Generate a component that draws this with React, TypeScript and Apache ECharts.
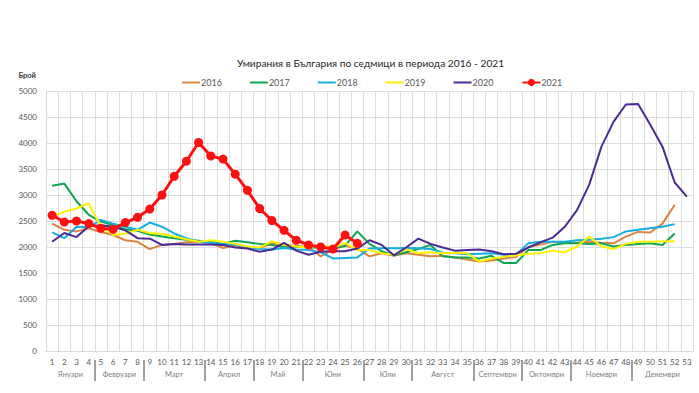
import React, { useEffect, useRef } from "react";
import * as echarts from "echarts";

const weeks: string[] = Array.from({ length: 53 }, (_, i) => String(i + 1));

const s2016 = [2450, 2330, 2300, 2360, 2290, 2230, 2130, 2100, 1960, 2040, 2060, 2090, 2100, 2080, 1980, 2030, 1980, 1980, 2070, 2050, 2020, 2000, 1820, 1950, 2030, 1970, 1820, 1880, 1830, 1880, 1850, 1820, 1830, 1800, 1760, 1720, 1740, 1780, 1810, 2000, 2050, 2100, 2080, 2080, 2100, 2080, 2070, 2200, 2290, 2280, 2450, 2810];
const s2017 = [3180, 3220, 2880, 2620, 2490, 2420, 2340, 2310, 2240, 2200, 2170, 2140, 2120, 2100, 2060, 2120, 2090, 2060, 2040, 2000, 2010, 1990, 1990, 1980, 2020, 2300, 2060, 1920, 1840, 1900, 1960, 2040, 1820, 1800, 1800, 1780, 1830, 1690, 1690, 1940, 1940, 2040, 2070, 2070, 2060, 2070, 2010, 2040, 2060, 2070, 2040, 2260];
const s2018 = [2280, 2170, 2390, 2380, 2520, 2450, 2390, 2330, 2470, 2390, 2260, 2170, 2100, 2080, 2060, 2050, 2000, 1960, 1950, 1980, 1950, 1940, 1900, 1780, 1790, 1800, 1970, 1975, 1975, 1980, 1975, 1960, 1890, 1880, 1860, 1870, 1880, 1850, 1850, 2070, 2100, 2100, 2100, 2130, 2140, 2160, 2190, 2300, 2330, 2360, 2390, 2440];
const s2019 = [2580, 2680, 2740, 2840, 2390, 2230, 2260, 2330, 2270, 2250, 2200, 2150, 2100, 2130, 2100, 2060, 2010, 1990, 2110, 2040, 2010, 1990, 2040, 1980, 2080, 1940, 1940, 1880, 1850, 1960, 1880, 1900, 1880, 1890, 1880, 1720, 1780, 1810, 1840, 1870, 1880, 1930, 1900, 2010, 2200, 2010, 1960, 2060, 2100, 2100, 2110, 2110];
const s2020 = [2100, 2270, 2190, 2400, 2420, 2390, 2320, 2170, 2160, 2040, 2060, 2050, 2050, 2050, 2040, 1990, 1970, 1910, 1950, 2080, 1930, 1850, 1910, 1920, 1920, 1970, 2130, 2040, 1840, 1990, 2160, 2060, 1990, 1930, 1940, 1950, 1920, 1860, 1870, 1990, 2090, 2180, 2390, 2710, 3200, 3930, 4410, 4740, 4750, 4350, 3930, 3240, 2970];
const s2021 = [2610, 2480, 2500, 2450, 2360, 2340, 2470, 2570, 2730, 3000, 3360, 3650, 4010, 3750, 3690, 3400, 3090, 2740, 2510, 2320, 2130, 2040, 2000, 1960, 2230, 2070];

const seriesNames = ["2016", "2017", "2018", "2019", "2020", "2021"];
const seriesColors = ["#DC8442", "#0DA550", "#14AEDF", "#FFF200", "#4B2A96", "#FF1010"];

const monthNames = ["Януари", "Февруари", "Март", "Април", "Май", "Юни", "Юли", "Август", "Септември", "Октомври", "Ноември", "Декември"];
const monthWeekCounts = [4, 4, 5, 4, 4, 5, 4, 5, 4, 4, 5, 5];

export default function App() {
  const ref = useRef<HTMLDivElement>(null);
  useEffect(() => {
    if (!ref.current) return;
    const chart = echarts.init(ref.current, undefined, { renderer: "svg" });

    const boundaries: number[] = [];
    const centers: number[] = [];
    let start = 0.5;
    monthWeekCounts.forEach((c, i) => {
      const end = start + c;
      centers.push((start + end) / 2);
      if (i < monthWeekCounts.length - 1) boundaries.push(end);
      start = end;
    });

    const allData = [s2016, s2017, s2018, s2019, s2020, s2021];
    const font = "Lato, 'Noto Sans', sans-serif";

    const series: any[] = allData.map((d, i) => {
      const isRed = i === 5;
      return {
        name: seriesNames[i],
        type: "line",
        xAxisIndex: 0,
        yAxisIndex: 0,
        data: d,
        color: seriesColors[i],
        symbol: isRed ? "circle" : "none",
        symbolSize: isRed ? 9 : 0,
        showSymbol: isRed,
        lineStyle: { width: isRed ? 3 : 2, color: seriesColors[i] },
        itemStyle: { color: seriesColors[i] },
        z: isRed ? 10 : 2 + i,
        silent: true,
      };
    });

    const legendData = seriesNames.map((n, i) =>
      i === 5 ? { name: n } : { name: n, icon: "path://M0,0H18V2H0Z" }
    );

    chart.setOption({
      animation: false,
      backgroundColor: "#ffffff",
      textStyle: { fontFamily: font },
      title: {
        text: "Умирания в България по седмици в периода 2016 - 2021",
        left: 232,
        top: 53,
        textStyle: { fontSize: 10.2, fontWeight: "normal", color: "#262626", fontFamily: font },
      },
      legend: {
        data: legendData,
        left: 177,
        top: 73,
        itemWidth: 18,
        itemHeight: 9,
        itemGap: 28,
        textStyle: { fontSize: 9, color: "#595959", fontFamily: font, padding: [0, 0, 0, -4] },
      },
      grid: { left: 46, right: 6, top: 91, bottom: 42, containLabel: false },
      xAxis: [
        {
          type: "category",
          data: weeks,
          boundaryGap: true,
          axisLine: { show: true, lineStyle: { color: "#D9D9D9" } },
          axisTick: { show: false },
          axisLabel: { interval: 0, fontSize: 8, color: "#595959", margin: 7, fontFamily: font },
          splitLine: { show: true, interval: 0, lineStyle: { color: "#DEDEDE", width: 1 } },
        },
        {
          type: "value",
          min: 0.5,
          max: 53.5,
          position: "bottom",
          offset: 9,
          axisLine: { show: false },
          splitLine: { show: false },
          axisTick: {
            show: true,
            customValues: boundaries,
            length: 21,
            lineStyle: { color: "#808080", width: 1.5 },
          },
          axisLabel: {
            customValues: centers,
            fontSize: 7.5,
            color: "#7F7F7F",
            margin: 10,
            fontFamily: font,
            formatter: (v: number) => {
              const idx = centers.findIndex((c) => Math.abs(c - v) < 0.01);
              return idx >= 0 ? monthNames[idx] : "";
            },
          },
        },
      ],
      yAxis: {
        type: "value",
        min: 0,
        max: 5000,
        interval: 500,
        name: "Брой",
        nameLocation: "end",
        nameGap: 12,
        nameTextStyle: { fontSize: 7.5, color: "#404040", fontWeight: "bold", align: "right", padding: [0, 10, 0, 0], fontFamily: font },
        axisLine: { show: true, lineStyle: { color: "#D9D9D9" } },
        axisTick: { show: false },
        axisLabel: { fontSize: 8, color: "#595959", margin: 9, fontFamily: font, formatter: (v: number) => String(v) },
        splitLine: { show: true, lineStyle: { color: "#DEDEDE", width: 1 } },
      },
      series,
    });
    return () => chart.dispose();
  }, []);
  return <div ref={ref} style={{ width: 699, height: 393, position: "absolute", left: 0, top: 0 }} />;
}
